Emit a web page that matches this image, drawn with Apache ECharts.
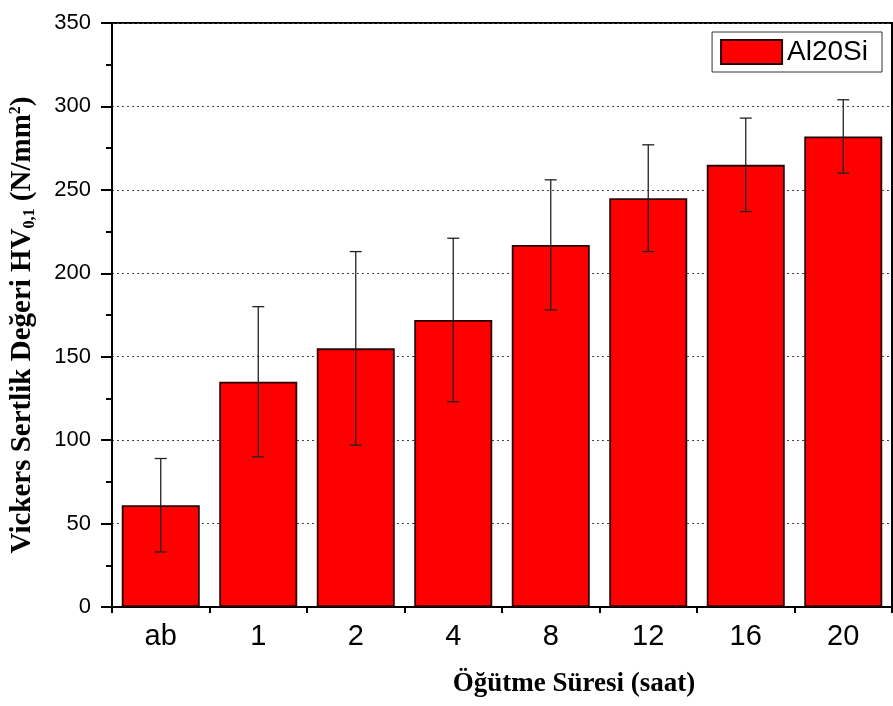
<!DOCTYPE html>
<html>
<head>
<meta charset="utf-8">
<script src="https://cdn.jsdelivr.net/npm/echarts@6/dist/echarts.min.js"></script>
<style>html,body{margin:0;padding:0;background:#fff;}#c{width:893px;height:706px;}</style>
</head>
<body>
<div id="c"></div>
<script>
var categories = ['ab', '1', '2', '4', '8', '12', '16', '20'];
var hardness = [61, 135, 155, 172, 217, 245, 265, 282];
var errors = [28, 45, 58, 49, 39, 32, 28, 22];
var yTicks = [0, 50, 100, 150, 200, 250, 300, 350];
var seriesName = 'Al20Si';

var chart = echarts.init(document.getElementById('c'));
var errData = hardness.map(function (v, i) { return [i, v - errors[i], v + errors[i]]; });

chart.setOption({
  animation: false,
  backgroundColor: '#fff',
  grid: { left: 110, right: 1, top: 23, bottom: 99, show: true, borderColor: '#000', borderWidth: 2, backgroundColor: 'transparent' },
  legend: {
    data: [{ name: seriesName, icon: 'rect' }],
    right: 11, top: 32,
    itemWidth: 61, itemHeight: 24,
    padding: [6, 14, 6, 8],
    borderColor: '#333', borderWidth: 1,
    textStyle: { fontFamily: 'Liberation Sans, Arial', fontSize: 28, color: '#000' }
  },
  xAxis: [{
    type: 'category',
    data: categories,
    name: 'Öğütme Süresi (saat)',
    nameLocation: 'middle',
    nameGap: 64,
    nameTextStyle: { fontFamily: 'Liberation Serif, Times New Roman', fontWeight: 'bold', fontSize: 27, color: '#000', padding: [0, 0, 0, 144] },
    axisLine: { lineStyle: { color: '#000', width: 2 } },
    axisTick: { alignWithLabel: true, length: 10, lineStyle: { color: '#000', width: 2 } },
    axisLabel: { fontFamily: 'Liberation Sans, Arial', fontSize: 29, color: '#000', margin: 15 },
    splitLine: { show: false }
  }, {
    type: 'category',
    data: categories,
    position: 'bottom',
    axisLine: { show: false },
    axisTick: { show: true, length: 6, lineStyle: { color: '#000', width: 2 } },
    axisLabel: { show: false },
    splitLine: { show: false }
  }],
  yAxis: {
    type: 'value',
    min: yTicks[0], max: yTicks[yTicks.length - 1], interval: 50,
    name: '{t|Vickers Sertlik Değeri HV}{sub|0,1}{t| (N/mm}{sup|2}{t|)}',
    nameLocation: 'middle',
    nameRotate: 90,
    nameGap: 74,
    nameTextStyle: {
      color: '#000',
      padding: [0, 20, 0, 0],
      rich: {
        t: { fontFamily: 'Liberation Serif, Times New Roman', fontWeight: 'bold', fontSize: 29, color: '#000', lineHeight: 30 },
        sub: { fontFamily: 'Liberation Serif, Times New Roman', fontWeight: 'bold', fontSize: 16, color: '#000', padding: [14, 0, 0, 0] },
        sup: { fontFamily: 'Liberation Serif, Times New Roman', fontWeight: 'bold', fontSize: 16, color: '#000', padding: [0, 0, 14, 0] }
      }
    },
    axisLine: { show: true, lineStyle: { color: '#000', width: 2 } },
    axisTick: { show: true, length: 11, lineStyle: { color: '#000', width: 2 } },
    minorTick: { show: true, splitNumber: 2, length: 6, lineStyle: { color: '#000', width: 2 } },
    axisLabel: { fontFamily: 'Liberation Sans, Arial', fontSize: 22, color: '#000', margin: 21 },
    splitLine: { show: true, lineStyle: { color: '#444', type: [2, 3], width: 1 } }
  },
  series: [{
    name: seriesName,
    type: 'bar',
    data: hardness,
    barWidth: '80%',
    itemStyle: { color: '#ff0000', borderColor: '#2a0000', borderWidth: 1.8 },
    z: 2
  }, {
    type: 'custom',
    name: 'err',
    data: errData,
    z: 5,
    renderItem: function (params, api) {
      var x = api.value(0);
      var lo = api.coord([x, api.value(1)]);
      var hi = api.coord([x, api.value(2)]);
      var hw = 6;
      var st = { stroke: '#222', lineWidth: 1.3 };
      return {
        type: 'group',
        children: [
          { type: 'line', shape: { x1: lo[0], y1: lo[1], x2: hi[0], y2: hi[1] }, style: st },
          { type: 'line', shape: { x1: hi[0] - hw, y1: hi[1], x2: hi[0] + hw, y2: hi[1] }, style: st },
          { type: 'line', shape: { x1: lo[0] - hw, y1: lo[1], x2: lo[0] + hw, y2: lo[1] }, style: st }
        ]
      };
    }
  }]
});
</script>
</body>
</html>
